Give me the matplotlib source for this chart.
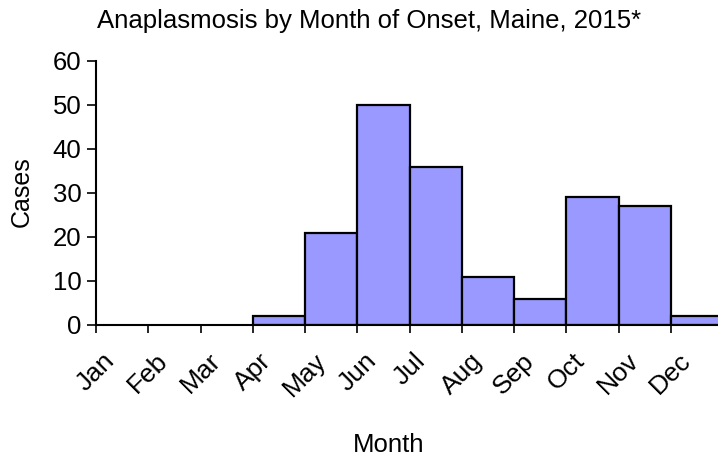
import matplotlib
matplotlib.use('Agg')
import matplotlib.pyplot as plt
import numpy as np

plt.rcParams['font.family'] = ['Liberation Sans', 'DejaVu Sans']

# ── Data ───────────────────────────────────────────────────────
months = ['Jan', 'Feb', 'Mar', 'Apr', 'May', 'Jun',
          'Jul', 'Aug', 'Sep', 'Oct', 'Nov', 'Dec']
cases = [0, 0, 0, 2, 21, 50, 36, 11, 6, 29, 27, 2]
y_ticks = [0, 10, 20, 30, 40, 50, 60]

W, H = 718, 458

# ── Figure ─────────────────────────────────────────────────────
fig = plt.figure(figsize=(W / 100, H / 100), dpi=100)
ax = fig.add_axes([96 / W, 133 / H, 1 - 96 / W, 264 / H])

x = np.arange(len(months))
nonzero = [i for i, v in enumerate(cases) if v > 0]
ax.bar([x[i] for i in nonzero], [cases[i] for i in nonzero], width=1.0,
       align='edge', color='#9999ff', edgecolor='black', linewidth=1.6,
       zorder=2)

ax.set_xlim(0, 11.9)
ax.set_ylim(0, 60)
ax.set_yticks(y_ticks)
ax.set_xticks(x)
ax.set_xticklabels(months, rotation=45, ha='center', va='top', fontsize=19)
ax.tick_params(axis='y', labelsize=18.5, direction='out', length=6.5, width=1.2, pad=4)
ax.tick_params(axis='x', direction='out', length=6, width=1.2, pad=11)

for s in ['top', 'right']:
    ax.spines[s].set_visible(False)
ax.spines['left'].set_linewidth(1.5)
ax.spines['bottom'].set_linewidth(1.5)
ax.spines['bottom'].set_zorder(3)

fig.text(22 / W, 1 - 192 / H, 'Cases', rotation=90, ha='center', va='center',
         fontsize=18)
fig.text(389 / W, 1 - 452 / H, 'Month', ha='center', va='baseline', fontsize=18.5)
fig.text(369 / W, 1 - 28 / H, 'Anaplasmosis by Month of Onset, Maine, 2015*',
         ha='center', va='baseline', fontsize=18.5)

fig.savefig('out.png', dpi=100, facecolor='white')
